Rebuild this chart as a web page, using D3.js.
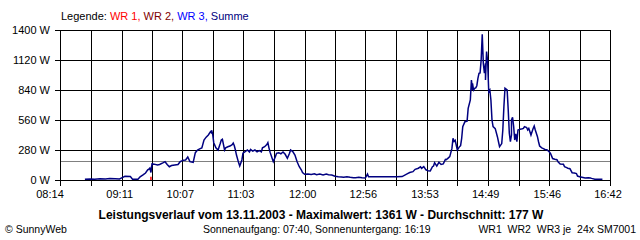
<!DOCTYPE html>
<html><head><meta charset="utf-8">
<script src="https://cdn.jsdelivr.net/npm/d3@7"></script>
<style>
html,body{margin:0;padding:0;background:#fff;}
svg{display:block;}
text{font-family:"Liberation Sans",Arial,sans-serif;}
</style></head>
<body>
<svg id="c" width="640" height="240"></svg>
<script>
const xLabels = ["08:14","09:11","10:07","11:03","12:00","12:56","13:53","14:49","15:46","16:42"];
const yTicks = [0,280,560,840,1120,1400];
const legendItems = ["WR 1,","WR 2,","WR 3,","Summe"];
const legendColors = ["#ff0000","#800000","#0000ff","#000080"];
const average = 177;
const wr1Times = ["09:38","09:38"];
const wr1Watts = [0,30];
const summeTimes = ["08:37","08:42","08:46","08:51","08:56","09:00","09:05","09:09","09:11","09:14","09:19","09:21","09:24","09:26","09:28","09:31","09:33","09:35","09:36","09:37","09:38","09:39","09:41","09:44","09:46","09:49","09:51","09:53","09:55","09:57","10:00","10:03","10:05","10:08","10:10","10:12","10:14","10:17","10:19","10:21","10:23","10:25","10:27","10:29","10:31","10:33","10:34","10:34","10:35","10:36","10:38","10:40","10:42","10:43","10:44","10:45","10:46","10:47","10:49","10:51","10:53","10:54","10:55","10:56","10:57","10:59","11:00","11:02","11:03","11:05","11:07","11:09","11:10","11:12","11:14","11:16","11:18","11:20","11:21","11:23","11:25","11:26","11:27","11:28","11:30","11:31","11:33","11:34","11:36","11:38","11:40","11:42","11:44","11:46","11:47","11:49","11:51","11:53","11:55","11:57","11:58","12:00","12:03","12:06","12:09","12:11","12:14","12:17","12:20","12:22","12:25","12:28","12:31","12:34","12:36","12:39","12:42","12:45","12:47","12:50","12:53","12:56","12:58","12:59","13:02","13:07","13:11","13:16","13:21","13:25","13:30","13:35","13:37","13:40","13:42","13:45","13:47","13:48","13:50","13:52","13:54","13:56","13:58","13:59","14:00","14:02","14:04","14:06","14:08","14:10","14:11","14:12","14:14","14:16","14:17","14:18","14:19","14:21","14:23","14:24","14:25","14:26","14:28","14:30","14:31","14:33","14:34","14:35","14:35","14:36","14:37","14:38","14:39","14:40","14:41","14:42","14:43","14:44","14:45","14:46","14:47","14:47","14:48","14:49","14:50","14:51","14:52","14:53","14:54","14:56","14:58","14:59","15:00","15:02","15:03","15:04","15:05","15:07","15:08","15:09","15:10","15:11","15:11","15:12","15:13","15:14","15:15","15:16","15:17","15:19","15:21","15:22","15:23","15:25","15:26","15:27","15:29","15:31","15:32","15:33","15:35","15:36","15:37","15:39","15:40","15:42","15:44","15:46","15:47","15:48","15:49","15:51","15:53","15:54","15:56","15:59","16:00","16:02","16:03","16:05","16:07","16:09","16:11","16:12","16:14","16:16","16:19","16:22","16:24","16:25","16:28","16:31","16:35"];
const summeWatts = [7,10,8,12,10,14,12,10,20,34,32,8,7,8,30,50,65,95,100,112,70,150,148,140,145,160,171,145,124,135,140,145,171,185,187,215,171,165,255,280,290,300,373,400,420,450,440,465,430,348,300,280,340,373,380,330,280,300,310,317,330,345,320,280,233,160,130,187,250,264,280,262,285,270,280,262,275,262,300,311,330,348,300,260,200,171,220,249,255,245,262,240,202,250,280,265,233,170,124,93,70,53,55,52,58,50,55,48,55,50,47,35,30,28,25,30,25,22,20,25,20,18,55,30,30,30,30,30,30,30,32,60,70,78,100,110,124,109,125,95,87,85,124,130,162,130,165,145,150,193,190,200,218,295,389,360,370,280,311,320,389,498,544,550,669,747,933,840,902,840,856,860,880,949,996,1000,1120,1361,1089,996,1089,933,1198,1104,824,840,747,560,498,480,404,357,311,340,467,684,856,840,653,436,357,420,560,585,500,373,430,357,467,473,478,482,498,490,467,482,420,480,504,467,404,357,317,300,295,285,280,262,249,225,200,193,190,170,150,148,124,115,110,105,68,65,60,37,30,25,18,20,18,15,8,6,6];

const toMin = s => { const [h,m] = s.split(":").map(Number); return h*60+m; };
const svg = d3.select("#c");
const x = d3.scaleLinear().domain([toMin(xLabels[0]), toMin(xLabels[xLabels.length-1])]).range([60,610]);
const y = d3.scaleLinear().domain([0,1400]).range([180,30]);
const px = v => Math.round(v)+0.5;

// grid times: labels plus midpoints
const labelMins = xLabels.map(toMin);
const gridMins = [];
labelMins.forEach((m,i)=>{ gridMins.push(m); if(i<labelMins.length-1) gridMins.push((m+labelMins[i+1])/2); });

const g = svg.append("g").attr("shape-rendering","crispEdges");
g.selectAll("line.v").data(gridMins).join("line")
  .attr("x1",d=>px(x(d))).attr("x2",d=>px(x(d)))
  .attr("y1",y(1400)).attr("y2",y(0)+6)
  .attr("stroke","#000").attr("stroke-width",1);
g.selectAll("line.h").data(yTicks).join("line")
  .attr("x1",55).attr("x2",px(x(labelMins[labelMins.length-1]))+0.5)
  .attr("y1",d=>px(y(d))).attr("y2",d=>px(y(d)))
  .attr("stroke","#000").attr("stroke-width",1);
// average line
g.append("line").attr("x1",px(x(labelMins[0]))+0.5).attr("x2",px(x(labelMins[labelMins.length-1]))-0.5)
  .attr("y1",px(y(average))).attr("y2",px(y(average)))
  .attr("stroke","#808080").attr("stroke-width",1);
g.selectAll("line.v2").data(gridMins).join("line")
  .attr("x1",d=>px(x(d))).attr("x2",d=>px(x(d)))
  .attr("y1",px(y(average))-0.5).attr("y2",px(y(average))+0.5)
  .attr("stroke","#000").attr("stroke-width",1);

// y labels
svg.selectAll("text.yl").data(yTicks).join("text")
  .attr("x",50).attr("y",d=>y(d)+4).attr("text-anchor","end")
  .attr("font-size",11).text(d=>d+" W");
// x labels
svg.selectAll("text.xl").data(xLabels).join("text")
  .attr("x",(d,i)=>x(toMin(d)) - (i===0?10:2)).attr("y",198).attr("text-anchor","middle")
  .attr("font-size",11).text(d=>d);

const line = d3.line().x(d=>x(toMin(d[0]))).y(d=>y(d[1]));
svg.append("path").datum(wr1Times.map((t,i)=>[t,wr1Watts[i]]))
  .attr("d",line).attr("fill","none").attr("stroke","#ff0000").attr("stroke-width",1.5);
svg.append("path").datum(summeTimes.map((t,i)=>[t,summeWatts[i]]))
  .attr("d",line).attr("fill","none").attr("stroke","#000080").attr("stroke-width",1.5).attr("stroke-linejoin","miter");

// legend
const leg = svg.append("text").attr("x",61).attr("y",20).attr("font-size",11).attr("xml:space","preserve");
leg.append("tspan").attr("fill","#000").text("Legende: ");
legendItems.forEach((t,i)=>{ leg.append("tspan").attr("fill",legendColors[i]).text(t + (i<legendItems.length-1?" ":"")); });

// title and footer
svg.append("text").attr("x",321).attr("y",219).attr("text-anchor","middle").attr("font-size",12).attr("font-weight","bold")
  .text("Leistungsverlauf vom 13.11.2003 - Maximalwert: 1361 W - Durchschnitt: 177 W");
svg.append("text").attr("x",5).attr("y",233).attr("font-size",10.5).text("© SunnyWeb");
svg.append("text").attr("x",203).attr("y",233).attr("font-size",10.5).attr("xml:space","preserve").text("Sonnenaufgang: 07:40, Sonnenuntergang: 16:19");
svg.append("text").attr("x",636).attr("y",233).attr("font-size",10.5).attr("text-anchor","end").attr("xml:space","preserve").text("WR1  WR2  WR3 je  24x SM7001");
</script>
</body></html>
